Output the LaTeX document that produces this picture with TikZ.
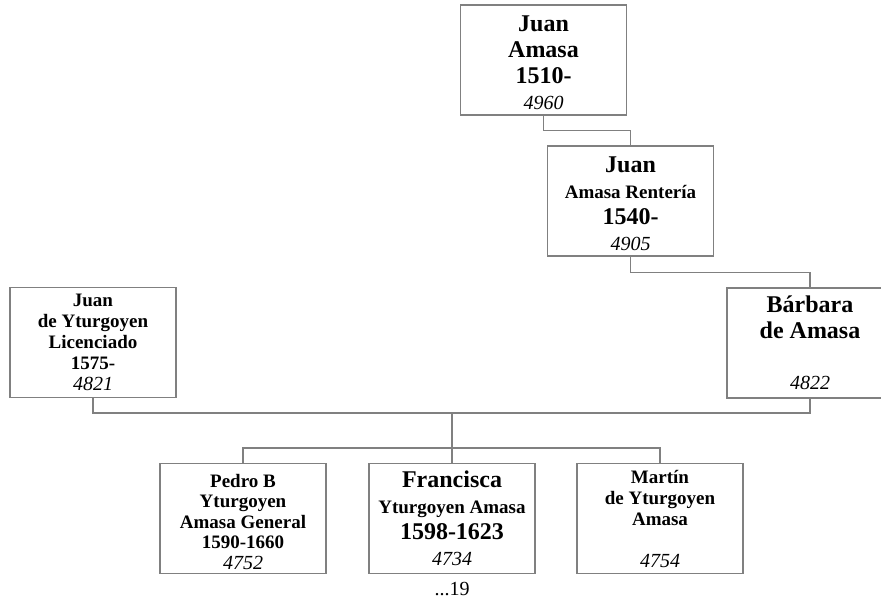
\documentclass[tikz,border=0pt]{standalone}
\usepackage{fontspec}
\setmainfont{Liberation Serif}
\definecolor{linegray}{RGB}{128,128,128}
\tikzset{
  person/.style={draw=linegray, line width=1.2pt, minimum width=166pt,
    minimum height=110pt, inner sep=0pt, align=center,
    font=\bfseries\fontsize{24}{26}\selectfont},
  smallperson/.style={person, font=\bfseries\fontsize{19}{21}\selectfont},
  link/.style={draw=linegray, line width=1.2pt}
}
\newcommand{\smline}[1]{{\fontsize{19}{21}\selectfont #1}}
\newcommand{\idno}[1]{{\mdseries\itshape\fontsize{20}{22}\selectfont #1}}
\newcommand{\topgap}[1]{\rule{0pt}{#1}}
\begin{document}
\begin{tikzpicture}[x=1pt, y=-1pt]
  \useasboundingbox (0,0) rectangle (881,602);

  % --- generazione 1 ---
  \node[person] (b1) at (543.5,60) {\topgap{21pt}Juan\\Amasa\\1510-\\\idno{4960}};

  % --- generazione 2 ---
  \node[person] (b2) at (630.5,201) {\topgap{22pt}Juan\\\smline{Amasa Rentería}\\1540-\\\idno{4905}};

  % --- coppia ---
  \node[smallperson] (jy) at (93,342.5) {Juan\\de Yturgoyen\\Licenciado\\1575-\\\idno{4821}};
  \node[person] (ba) at (810,343) {Bárbara\\de Amasa\\[25pt]\idno{4822}};

  % --- figli ---
  \node[smallperson, font=\bfseries\fontsize{19}{20.5}\selectfont] (pe) at (243,518.5)
    {\topgap{20pt}Pedro B\\Yturgoyen\\Amasa General\\1590-1660\\\idno{4752}};
  \node[person] (fr) at (452,518.5) {Francisca\\\smline{Yturgoyen Amasa}\\1598-1623\\\idno{4734}};
  \node[smallperson] (ma) at (660,518.5) {Martín\\de Yturgoyen\\Amasa\\[21pt]\idno{4754}};
  \node[font=\fontsize{20}{22}\selectfont, anchor=base] (fr19) at (452,595) {...19};

  % --- linee ---
  \draw[link] (b1.south) -- ++(0,15) -| (b2.north);
  \draw[link] (b2.south) -- ++(0,16) -| (ba.north);
  \coordinate (wed) at (452,413);
  \coordinate (kids) at (452,448);
  \draw[link] (jy.south) |- (wed) -| (ba.south);
  \draw[link] (wed) -- (kids) -- (fr.north);
  \draw[link] (pe.north) |- (kids) -| (ma.north);

\end{tikzpicture}
\end{document}
